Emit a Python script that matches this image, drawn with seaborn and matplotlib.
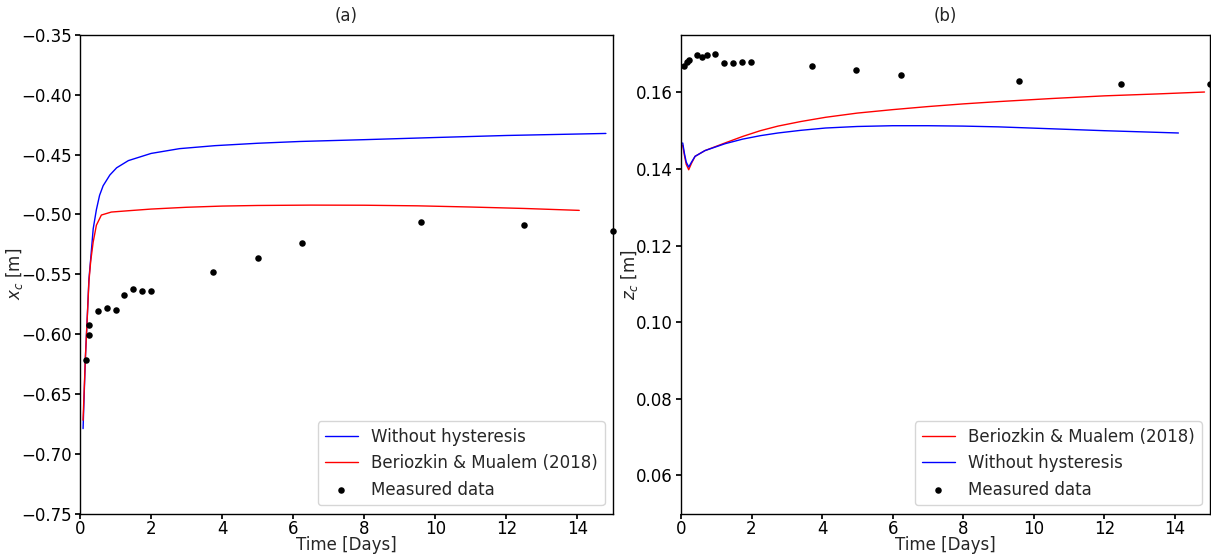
import numpy as np
import matplotlib
matplotlib.use('Agg')
import matplotlib.pyplot as plt
import seaborn as sns

# (a) horizontal centroid x_c
t_meas_a = [0.17, 0.25, 0.25, 0.5, 0.75, 1.0, 1.25, 1.5, 1.75, 2.0, 3.73, 5.0, 6.24, 9.6, 12.5, 15.0]
xc_meas = [-0.622, -0.601, -0.592, -0.581, -0.578, -0.580, -0.567, -0.562, -0.564, -0.564,
           -0.548, -0.536, -0.524, -0.506, -0.509, -0.514]

t_nohyst_a = [0.085, 0.15, 0.21, 0.25, 0.30, 0.37, 0.46, 0.55, 0.65, 0.84, 1.03, 1.36,
              2.0, 2.8, 3.8, 5.0, 6.2, 8.0, 10.0, 12.0, 14.8]
xc_nohyst = [-0.679, -0.620, -0.581, -0.554, -0.537, -0.512, -0.496, -0.484, -0.476, -0.467,
             -0.461, -0.455, -0.449, -0.445, -0.4425, -0.4405, -0.439, -0.4375, -0.4357, -0.434, -0.4323]

t_hyst_a = [0.085, 0.15, 0.21, 0.25, 0.30, 0.37, 0.46, 0.60, 0.88, 1.36, 2.0, 3.0, 4.0,
            5.0, 6.5, 8.0, 9.5, 11.0, 12.5, 14.05]
xc_hyst = [-0.672, -0.620, -0.582, -0.556, -0.539, -0.523, -0.509, -0.5005, -0.498, -0.4969,
           -0.4955, -0.4940, -0.4930, -0.4925, -0.4922, -0.4923, -0.4928, -0.4938, -0.4950, -0.4966]

# (b) vertical centroid z_c
t_meas_b = [0.09, 0.16, 0.22, 0.46, 0.59, 0.73, 0.97, 1.22, 1.48, 1.72, 1.98, 3.71, 4.97,
            6.23, 9.57, 12.48, 15.0]
zc_meas = [0.1669, 0.1679, 0.1685, 0.1697, 0.1692, 0.1699, 0.1700, 0.1678, 0.1676, 0.1679,
           0.1679, 0.1668, 0.1659, 0.1646, 0.1631, 0.1622, 0.1621]

t_hyst_b = [0.05, 0.1, 0.15, 0.22, 0.3, 0.4, 0.68, 1.25, 1.75, 2.25, 2.75, 3.4, 4.1, 5.0,
            6.0, 7.0, 8.0, 9.0, 10.5, 12.0, 13.5, 14.84]
zc_hyst = [0.1462, 0.1435, 0.1412, 0.1398, 0.1415, 0.1433, 0.1448, 0.1468, 0.1485, 0.1500,
           0.1512, 0.1524, 0.1535, 0.1546, 0.1555, 0.1563, 0.1570, 0.1576, 0.1584, 0.1591,
           0.1596, 0.1601]

t_nohyst_b = [0.05, 0.1, 0.15, 0.22, 0.3, 0.4, 0.68, 1.25, 1.75, 2.25, 2.75, 3.4, 4.1, 5.0,
              6.0, 7.0, 8.0, 9.0, 10.5, 12.0, 14.1]
zc_nohyst = [0.1468, 0.1440, 0.1418, 0.1405, 0.1418, 0.1433, 0.1448, 0.1466, 0.1478, 0.1487,
             0.1494, 0.1501, 0.1507, 0.1511, 0.1513, 0.1513, 0.1512, 0.1510, 0.1505, 0.1500,
             0.1494]

lbl_nohyst = 'Without hysteresis'
lbl_hyst = 'Beriozkin & Mualem (2018)'
lbl_meas = 'Measured data'

sns.set_theme(style='ticks')
plt.rcParams['font.family'] = ['DejaVu Sans']
plt.rcParams.update({'font.size': 12, 'axes.labelsize': 12, 'axes.titlesize': 12,
                     'xtick.labelsize': 12, 'ytick.labelsize': 12, 'legend.fontsize': 12,
                     'xtick.major.size': 3.5, 'ytick.major.size': 3.5,
                     'xtick.major.pad': 1, 'ytick.major.pad': 2.5,
                     'axes.edgecolor': 'black', 'axes.linewidth': 1.0,
                     'xtick.color': 'black', 'ytick.color': 'black'})

fig = plt.figure(figsize=(12.11, 5.57), dpi=100)
ax1 = fig.add_axes([0.0661, 0.078, 0.4401, 0.8592])
ax2 = fig.add_axes([0.5623, 0.078, 0.4370, 0.8592])

# panel (a)
sns.lineplot(x=t_nohyst_a, y=xc_nohyst, color='blue', lw=1, label=lbl_nohyst, ax=ax1)
sns.lineplot(x=t_hyst_a, y=xc_hyst, color='red', lw=1, label=lbl_hyst, ax=ax1)
sns.scatterplot(x=t_meas_a, y=xc_meas, color='black', s=22, linewidth=0, label=lbl_meas,
                ax=ax1, clip_on=False, zorder=3)
ax1.set_xlim(0, 15)
ax1.set_ylim(-0.75, -0.35)
ax1.set_xticks(np.arange(0, 15, 2))
ax1.set_yticks(np.arange(-0.75, -0.349, 0.05))
ax1.set_title('(a)', pad=10)
ax1.set_xlabel('Time [Days]', labelpad=-1)
ax1.set_ylabel(r'$x_c$ [m]', labelpad=-3)
ax1.legend(loc='lower right')

# panel (b)
sns.lineplot(x=t_hyst_b, y=zc_hyst, color='red', lw=1, label=lbl_hyst, ax=ax2)
sns.lineplot(x=t_nohyst_b, y=zc_nohyst, color='blue', lw=1, label=lbl_nohyst, ax=ax2)
sns.scatterplot(x=t_meas_b, y=zc_meas, color='black', s=22, linewidth=0, label=lbl_meas,
                ax=ax2, clip_on=False, zorder=3)
ax2.set_xlim(0, 15)
ax2.set_ylim(0.05, 0.175)
ax2.set_xticks(np.arange(0, 15, 2))
ax2.set_yticks(np.arange(0.06, 0.161, 0.02))
ax2.set_title('(b)', pad=10)
ax2.set_xlabel('Time [Days]', labelpad=-1)
ax2.set_ylabel(r'$z_c$ [m]', labelpad=-3)
ax2.legend(loc='lower right')

fig.savefig('out.png', dpi=100)
